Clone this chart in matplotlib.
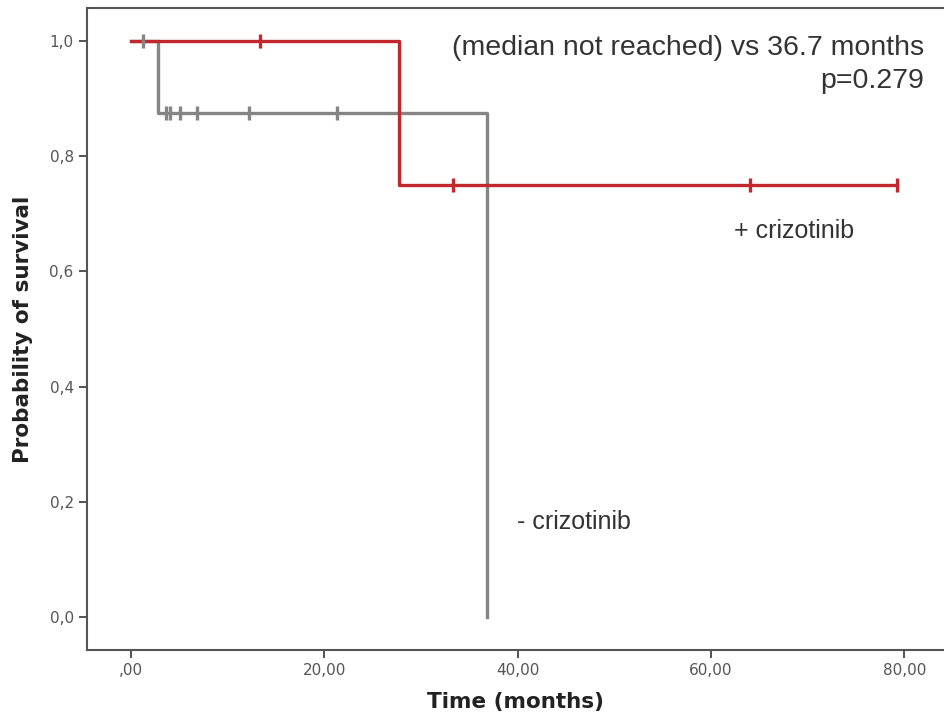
import matplotlib
matplotlib.use("Agg")
import matplotlib.pyplot as plt

# Kaplan-Meier step data
with_time = [0, 27.7, 27.7, 79.2]
with_surv = [1.0, 1.0, 0.75, 0.75]
with_cens_t = [13.3, 33.3, 64.0, 79.2]
with_cens_s = [1.0, 0.75, 0.75, 0.75]

without_time = [0, 2.8, 2.8, 36.8, 36.8]
without_surv = [1.0, 1.0, 0.875, 0.875, 0.0]
without_cens_t = [1.3, 3.6, 4.0, 5.1, 6.8, 12.2, 21.3]
without_cens_s = [1.0, 0.875, 0.875, 0.875, 0.875, 0.875, 0.875]

xticks = [0, 20, 40, 60, 80]
xticklabels = [",00", "20,00", "40,00", "60,00", "80,00"]
yticks = [0, 0.2, 0.4, 0.6, 0.8, 1.0]
yticklabels = ["0,0", "0,2", "0,4", "0,6", "0,8", "1,0"]

red = "#c1272d"
grey = "#858585"

fig = plt.figure(figsize=(9.45, 7.23), dpi=100)
ax = fig.add_axes([0.092, 0.101, 0.908, 0.888])

ax.plot(without_time, without_surv, color=grey, lw=2.4, zorder=2)
ax.plot(with_time, with_surv, color=red, lw=2.4, zorder=3)
ax.plot(without_cens_t, without_cens_s, ls="none", marker="|", ms=10, mew=2.4,
        color=grey, zorder=4)
ax.plot(with_cens_t, with_cens_s, ls="none", marker="|", ms=10, mew=2.4,
        color=red, zorder=4)

ax.set_xlim(-4.55, 84.2)
ax.set_ylim(-0.057, 1.057)
ax.set_xticks(xticks)
ax.set_xticklabels(xticklabels)
ax.set_yticks(yticks)
ax.set_yticklabels(yticklabels)
ax.tick_params(direction="out", length=6, width=1.3, color="#444444",
               labelcolor="#555555", labelsize=11)

for side in ["left", "bottom", "top"]:
    ax.spines[side].set_color("#555555")
    ax.spines[side].set_linewidth(1.5)
ax.spines["right"].set_visible(False)

ax.set_xlabel("Time (months)", fontsize=15.5, fontweight="bold", color="#222222",
              labelpad=10)
ax.set_ylabel("Probability of survival", fontsize=15.5, fontweight="bold",
              color="#222222", labelpad=12)

tf = {"family": "Liberation Sans", "color": "#333333"}
ax.text(82.0, 0.988, "(median not reached) vs 36.7 months", ha="right",
        va="center", fontsize=20.5, **tf)
ax.text(82.0, 0.930, "p=0.279", ha="right", va="center", fontsize=20.5, **tf)
ax.text(62.4, 0.670, "+ crizotinib", ha="left", va="center", fontsize=18, **tf)
ax.text(39.9, 0.165, "- crizotinib", ha="left", va="center", fontsize=18, **tf)

fig.savefig("out.png", dpi=100)
